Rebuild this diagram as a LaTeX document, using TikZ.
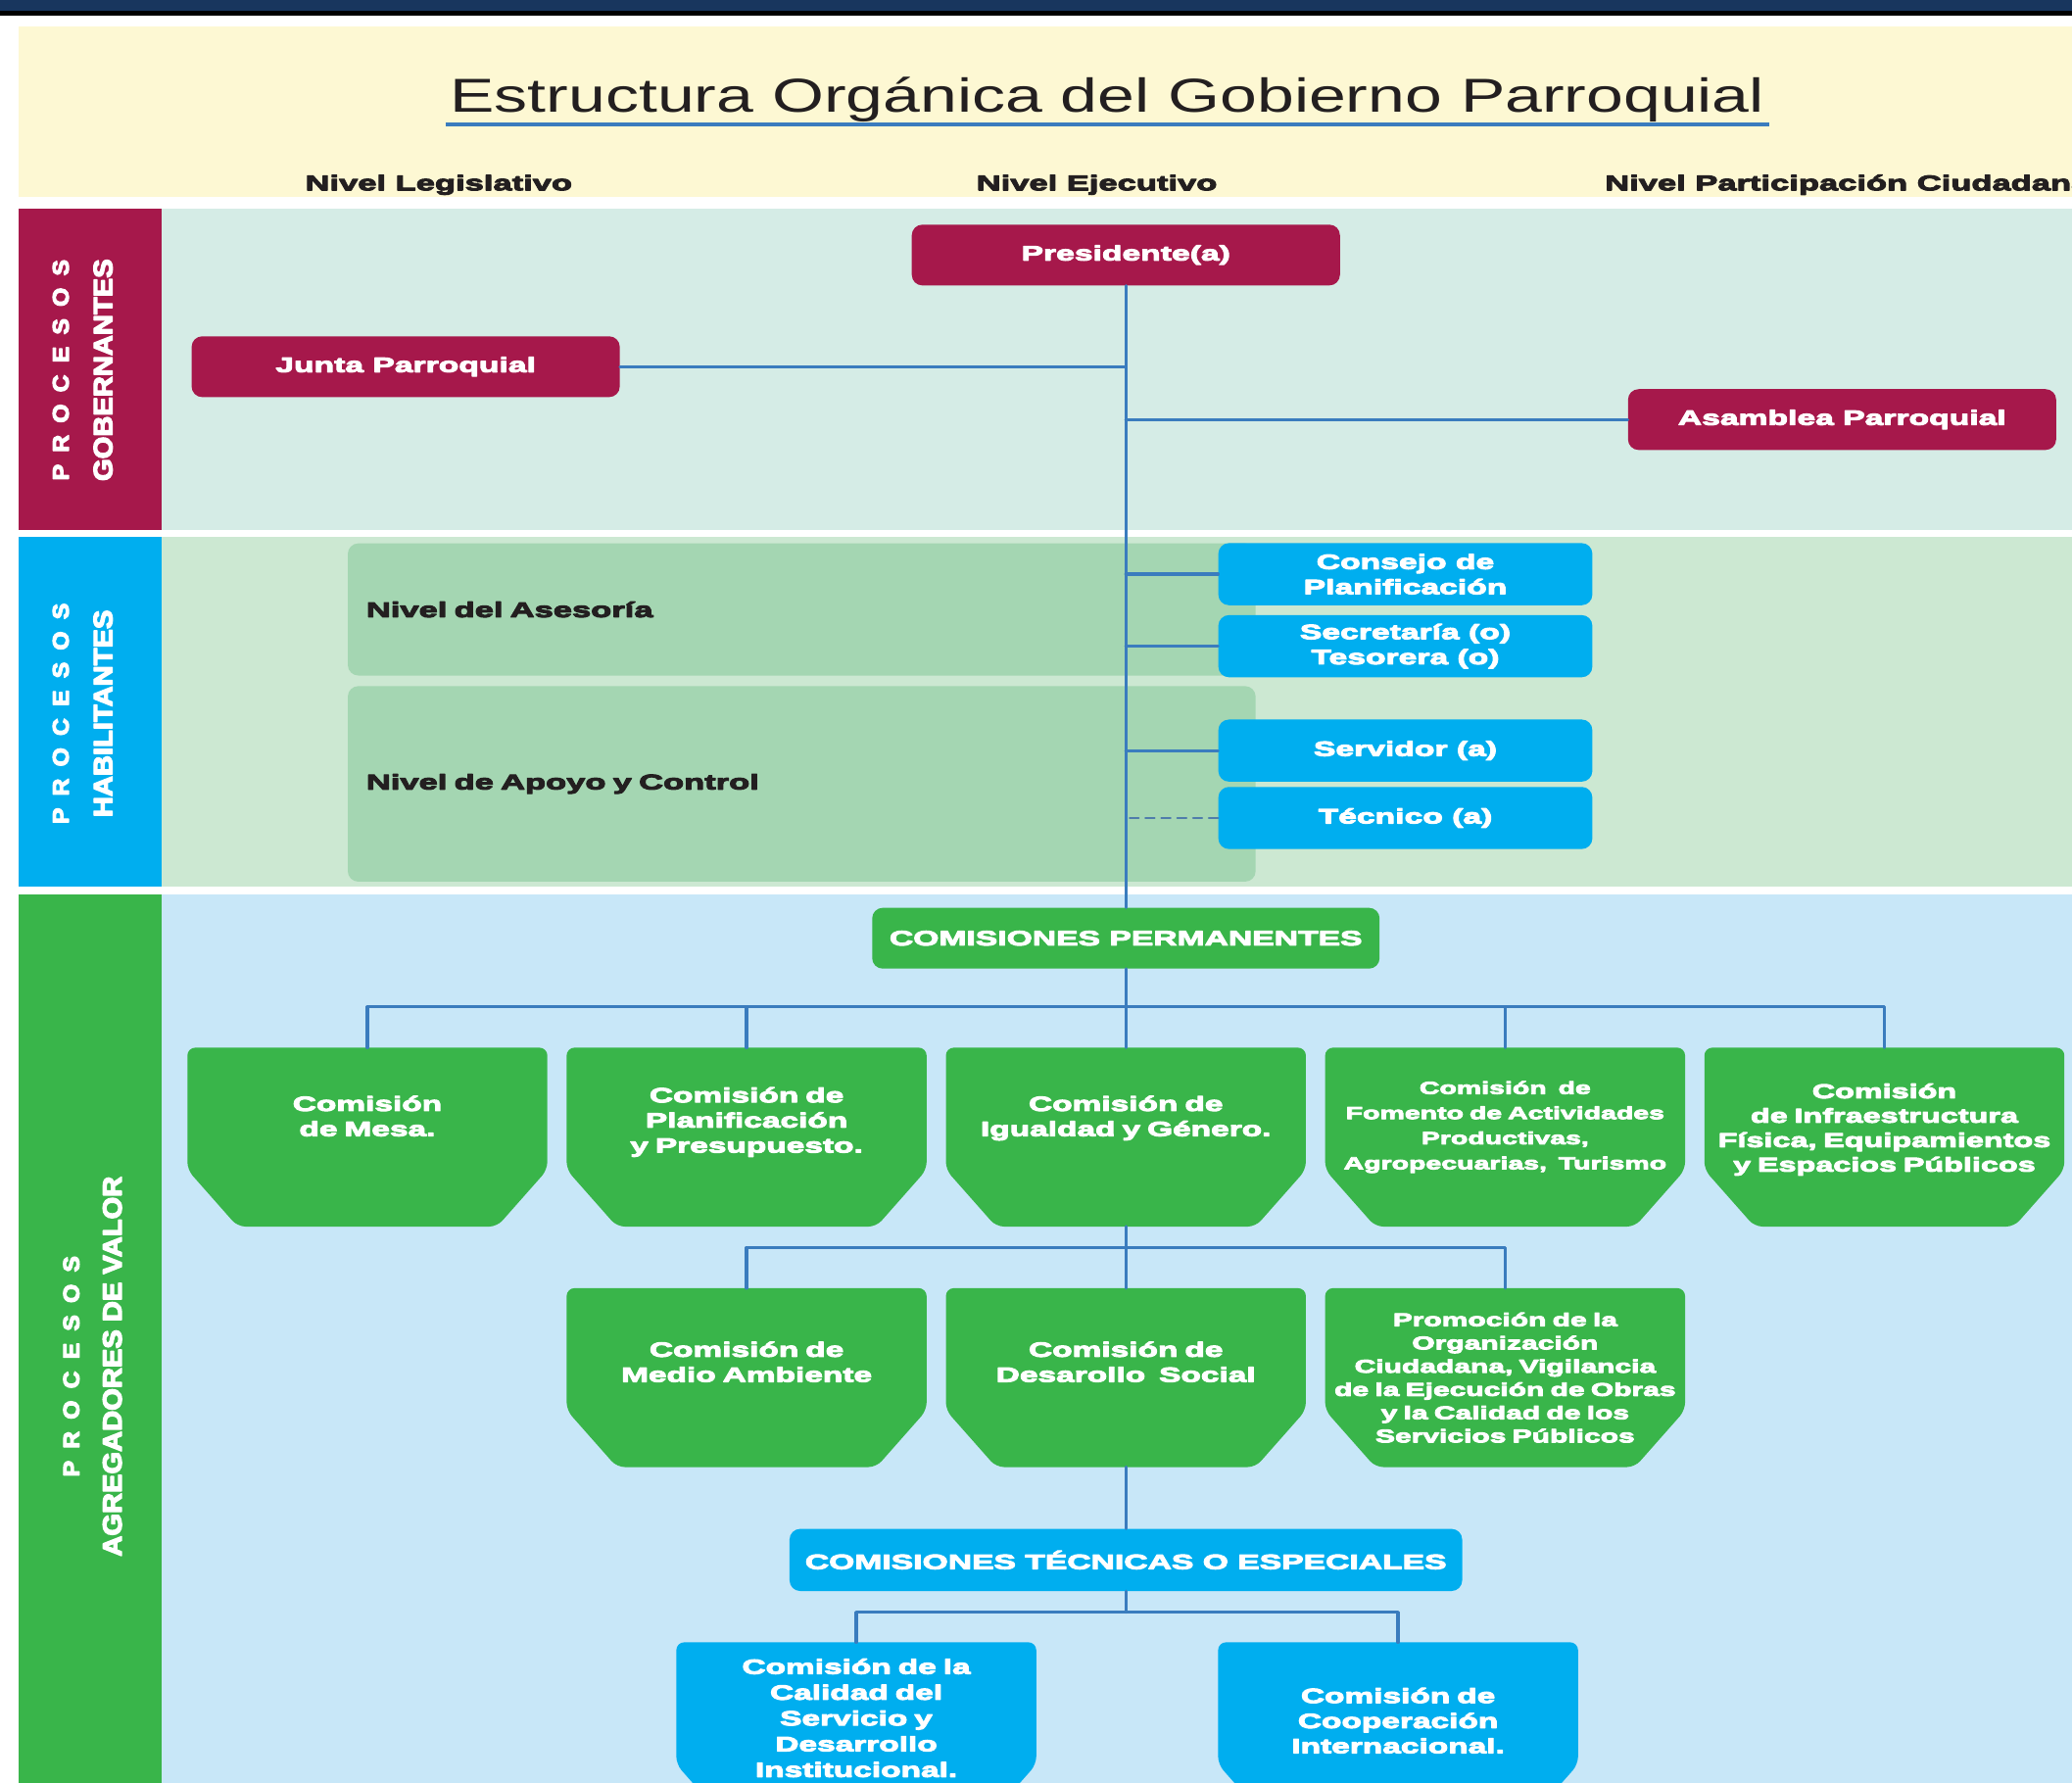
\documentclass[tikz,border=0pt]{standalone}
\usepackage{tikz}
\usepackage{fontspec}
\setmainfont{Liberation Sans}
\newfontfamily\anchofont{Liberation Sans Bold}[FakeStretch=1.6,FakeBold=5]
\newfontfamily\titulofont{Liberation Sans}[FakeStretch=1.4]
\newfontfamily\verticalfont{Liberation Sans Bold}[FakeStretch=1.08,FakeBold=5]

\definecolor{granate}{RGB}{166,24,75}
\definecolor{celeste}{RGB}{0,174,239}
\definecolor{verde}{RGB}{57,181,74}
\definecolor{fondoA}{RGB}{213,236,230}
\definecolor{fondoB}{RGB}{204,232,210}
\definecolor{fondoC}{RGB}{200,231,248}
\definecolor{nivelverde}{RGB}{164,214,178}
\definecolor{crema}{RGB}{253,248,211}
\definecolor{marino}{RGB}{24,54,94}
\definecolor{linea}{RGB}{58,124,190}
\definecolor{tinta}{RGB}{35,31,32}

\pgfdeclarelayer{fondo}
\pgfdeclarelayer{formas}
\pgfsetlayers{fondo,formas,main}

\begin{document}
\begin{tikzpicture}[x=1pt,y=-1pt,line cap=round,line join=round,
  caja/.style={rounded corners=8pt,text=white,align=center,inner sep=2pt,
    font=\anchofont\fontsize{15.6}{19}\selectfont},
  gob/.style={caja,fill=granate,minimum width=324pt,minimum height=46pt},
  hab/.style={caja,fill=celeste,minimum width=283pt,minimum height=47pt},
  comi/.style={text=white,align=center,text width=270pt,inner xsep=1pt,inner ysep=2pt,
    minimum height=135pt,font=\anchofont\fontsize{15.5}{19}\selectfont},
  nivel/.style={anchor=north west,fill=nivelverde,rounded corners=8pt,minimum width=687pt,
    text width=659pt,inner xsep=14pt,align=left,text=tinta,
    font=\anchofont\fontsize{16}{19}\selectfont},
  encabezado/.style={anchor=base,text=tinta,font=\anchofont\fontsize{16}{19}\selectfont},
  proc/.style={rotate=90,text=white,font=\verticalfont\fontsize{17}{18}\selectfont},
  vtexto/.style={rotate=90,text=white,font=\verticalfont\fontsize{20}{22}\selectfont},
  conector/.style={draw=linea,line width=2.4pt},
]
  \useasboundingbox (0,0) rectangle (1568,1349);

  % franjas de fondo
  \begin{pgfonlayer}{fondo}
    \fill[white] (0,0) rectangle (1568,1349);
    \fill[marino] (0,0) rectangle (1568,8);
    \fill[black] (0,8) rectangle (1568,12);
    \fill[crema] (14,20) rectangle (1568,149);
    \fill[granate] (14,158) rectangle (122,401);
    \fill[fondoA] (122,158) rectangle (1568,401);
    \fill[celeste] (14,406) rectangle (122,671);
    \fill[fondoB] (122,406) rectangle (1568,671);
    \fill[verde] (14,677) rectangle (122,1349);
    \fill[fondoC] (122,677) rectangle (1568,1349);
  \end{pgfonlayer}

  \node[anchor=base,text=tinta,font=\titulofont\fontsize{36}{40}\selectfont] (titulo) at (838,85)
    {Estructura Orgánica del Gobierno Parroquial};
  \draw[linea,line width=3pt,line cap=butt] ([yshift=-9pt]titulo.base west) -- ([yshift=-9pt]titulo.base east);

  \node[encabezado] (legis) at (332,144) {Nivel Legislativo};
  \node[encabezado] (ejec) at (830,144) {Nivel Ejecutivo};
  \node[encabezado,anchor=base west] (partic) at (1211,144) {Nivel Participación Ciudadana};

  \node[proc] (procGob) at (46,280) {\spaceskip=9pt P R O C E S O S};
  \node[vtexto] (txtGob) at (78,280) {GOBERNANTES};
  \node[proc] (procHab) at (46,540) {\spaceskip=9pt P R O C E S O S};
  \node[vtexto] (txtHab) at (78,540) {HABILITANTES};
  \node[proc] (procAgr) at (54,1034) {\spaceskip=9pt P R O C E S O S};
  \node[vtexto] (txtAgr) at (85,1034) {AGREGADORES DE VALOR};

  % procesos gobernantes
  \node[gob] (pres) at (852,193) {Presidente(a)};
  \node[gob] (junta) at (307,277.5) {Junta Parroquial};
  \node[gob] (asam) at (1394,317.5) {Asamblea Parroquial};

  % procesos habilitantes
  \node[nivel,minimum height=100pt] (asesoria) at (263,411) {Nivel del Asesoría};
  \node[nivel,minimum height=148pt] (apoyo) at (263,519) {Nivel de Apoyo y Control};
  \node[hab] (consejo) at (1063.5,434.5) {Consejo de\\Planificación};
  \node[hab] (secre) at (1063.5,489) {Secretaría (o)\\Tesorera (o)};
  \node[hab] (servidor) at (1063.5,568) {Servidor (a)};
  \node[hab] (tecnico) at (1063.5,619) {Técnico (a)};

  % procesos agregadores de valor
  \node[caja,fill=verde,minimum width=384pt,minimum height=46pt] (perm) at (852,710) {COMISIONES PERMANENTES};
  \node[comi,text depth=51pt] (mesa) at (278,860.5) {Comisión\\de Mesa.};
  \node[comi,text depth=64pt] (plan) at (565,860.5) {Comisión de\\Planificación\\y Presupuesto.};
  \node[comi,text depth=51pt] (igual) at (852,860.5) {Comisión de\\Igualdad y Género.};
  \node[comi,text depth=75pt,font=\anchofont\fontsize{13.2}{19}\selectfont] (fomento) at (1139,860.5)
    {Comisión\ \ de\\Fomento de Actividades\\Productivas,\\Agropecuarias,\ \ Turismo};
  \node[comi,text depth=70pt,font=\anchofont\fontsize{15}{18.5}\selectfont] (infra) at (1426,860.5)
    {Comisión\\de Infraestructura\\Física, Equipamientos\\y Espacios Públicos};
  \node[comi,text depth=43pt] (ambiente) at (565,1042.5) {Comisión de\\Medio Ambiente};
  \node[comi,text depth=43pt] (social) at (852,1042.5) {Comisión de\\Desarollo\ \ Social};
  \node[comi,font=\anchofont\fontsize{13.9}{17.6}\selectfont] (promo) at (1139,1042.5)
    {Promoción de la\\Organización\\Ciudadana, Vigilancia\\de la Ejecución de Obras\\y la Calidad de los\\Servicios Públicos};
  \node[caja,fill=celeste,minimum width=509pt,minimum height=47pt] (tec) at (852,1180.5) {COMISIONES TÉCNICAS O ESPECIALES};
  \node[comi,text depth=99pt,font=\anchofont\fontsize{15.5}{19.5}\selectfont] (calidad) at (648,1310.5)
    {Comisión de la\\Calidad del\\Servicio y\\Desarrollo\\Institucional.};
  \node[comi,text depth=55pt] (coop) at (1058,1310.5) {Comisión de\\Cooperación\\Internacional.};

  \begin{pgfonlayer}{formas}
    \foreach \n/\c in {mesa/verde,plan/verde,igual/verde,fomento/verde,infra/verde,
      ambiente/verde,social/verde,promo/verde,calidad/celeste,coop/celeste}
      \fill[\c,rounded corners=6pt] (\n.north west) -- (\n.north east) -- ([yshift=43pt]\n.south east)
        -- ([xshift=-38pt]\n.south east) -- ([xshift=38pt]\n.south west) -- ([yshift=43pt]\n.south west) -- cycle;
  \end{pgfonlayer}

  % conectores
  \draw[conector] (pres) -- (perm);
  \draw[conector] (junta) -- (junta -| pres);
  \draw[conector] (asam) -- (asam -| pres);
  \draw[conector] (consejo) -- (consejo -| pres);
  \draw[conector] (secre) -- (secre -| pres);
  \draw[conector] (servidor) -- (servidor -| pres);
  \draw[draw=linea!70!gray,line width=1.5pt,dash pattern=on 7pt off 5pt] (tecnico) -- (tecnico -| pres);

  \coordinate (bus1) at (852,762);
  \draw[conector] (mesa.north) |- (bus1) -| (infra.north);
  \foreach \n in {plan,fomento}
    \draw[conector] (\n.north) -- (\n.north |- bus1);
  \draw[conector] (perm) -- (igual);

  \coordinate (bus2) at (852,944);
  \draw[conector] (igual) -- (social);
  \draw[conector] (ambiente.north) |- (bus2) -| (promo.north);
  \draw[conector] (social) -- (tec);

  \coordinate (bus3) at (852,1220);
  \draw[conector] (tec) -- (bus3);
  \draw[conector] (calidad.north) |- (bus3) -| (coop.north);
\end{tikzpicture}
\end{document}
